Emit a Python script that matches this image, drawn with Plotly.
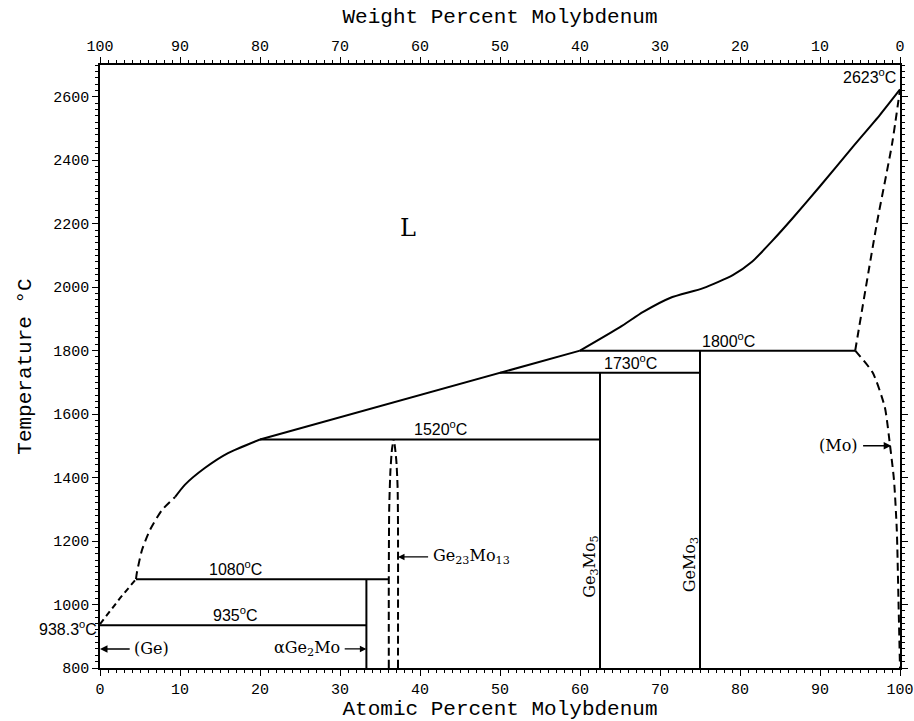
import plotly.graph_objects as go

# ---------------- data (at.% Mo, temperature degC) ----------------
# liquidus, Ge side (dashed parts)
ge_liq_x = [0, 2.5, 4.5]
ge_liq_t = [938.3, 1020, 1080]
liq_dash_x = [4.5, 4.6, 5.25, 6.25, 7.75, 9.4]
liq_dash_t = [1080, 1099, 1172, 1235, 1298, 1339]
# liquidus, solid parts
liq_a_x = [9.4, 10.6, 13.1, 16, 20]
liq_a_t = [1339, 1377, 1430, 1477, 1520]
liq_b_x = [20, 50, 60]
liq_b_t = [1520, 1730, 1800]
liq_c_x = [60, 65, 67.9, 71.25, 75.4, 79.1, 81.5, 84.0, 86.6, 90, 94.1, 97.5, 100]
liq_c_t = [1800, 1874, 1922, 1966, 1997, 2038, 2080, 2145, 2218, 2318, 2442, 2543, 2623]
# (Mo) solidus and solvus (dashed)
mo_sol_x = [94.4, 97.1, 99.0, 100]
mo_sol_t = [1800, 2200, 2450, 2623]
mo_solv_x = [94.4, 96.6, 98.1, 98.75, 99.25, 99.6, 99.8, 100]
mo_solv_t = [1800, 1730, 1622, 1502, 1392, 1235, 1024, 800]
# Ge23Mo13 phase boundaries (dashed)
g23_left_x = [36.1, 36.1, 36.15, 36.3, 36.5, 36.7]
g23_left_t = [800, 1080, 1300, 1420, 1490, 1520]
g23_right_x = [37.25, 37.25, 37.2, 37.05, 36.85, 36.7]
g23_right_t = [800, 1250, 1370, 1450, 1500, 1520]
# invariant isotherms: (x_start, x_end, temperature)
iso_x0 = [0, 4.5, 20, 50, 60]
iso_x1 = [33.3, 36.1, 62.5, 75, 94.4]
iso_t = [935, 1080, 1520, 1730, 1800]
iso_labels = ["935<sup>o</sup>C", "1080<sup>o</sup>C", "1520<sup>o</sup>C",
              "1730<sup>o</sup>C", "1800<sup>o</sup>C"]
iso_label_x = [16.9, 16.9, 42.5, 66.3, 78.5]
# line compounds: (x, top temperature)
comp_x = [33.3, 62.5, 75]
comp_top = [1080, 1730, 1800]

x_ticks = list(range(0, 101, 10))
y_ticks = list(range(800, 2601, 200))

LW = 2.0
fig = go.Figure()

def add_line(x, y, dash="solid", shape="linear"):
    fig.add_trace(go.Scatter(x=x, y=y, mode="lines",
                             line=dict(color="black", width=LW, dash=dash, shape=shape,
                                       smoothing=0.6),
                             showlegend=False, hoverinfo="skip"))

add_line(ge_liq_x, ge_liq_t, dash="6px,4px")
add_line(liq_dash_x, liq_dash_t, dash="8px,5px", shape="spline")
add_line(liq_a_x, liq_a_t, shape="spline")
add_line(liq_b_x, liq_b_t)
add_line(liq_c_x, liq_c_t, shape="spline")
add_line(mo_sol_x, mo_sol_t, dash="8px,5px", shape="spline")
add_line(mo_solv_x, mo_solv_t, dash="8px,5px", shape="spline")
add_line(g23_left_x, g23_left_t, dash="8px,4px", shape="spline")
add_line(g23_right_x, g23_right_t, dash="8px,4px", shape="spline")
for x0, x1, t in zip(iso_x0, iso_x1, iso_t):
    add_line([x0, x1], [t, t])
for cx, ct in zip(comp_x, comp_top):
    add_line([cx, cx], [800, ct])

# invisible trace for the top axis
fig.add_trace(go.Scatter(x=[0, 100], y=[800, 800], xaxis="x2", mode="lines",
                         line=dict(width=0), showlegend=False, hoverinfo="skip"))

lab_font = dict(family="Liberation Sans", size=16, color="black")
ser_font = dict(family="DejaVu Serif", size=16, color="black")
ann = []
for lx, t, txt in zip(iso_label_x, iso_t, iso_labels):
    ann.append(dict(x=lx, y=t, text=txt, showarrow=False, yanchor="bottom",
                    xanchor="center", font=lab_font, yshift=-1))

def arrow(hx, tx, y, w=1.3):
    return dict(x=hx, y=y, ax=tx, ay=y, axref="x", ayref="y", text="", showarrow=True,
                arrowhead=2, arrowsize=1, arrowwidth=w, arrowcolor="black", standoff=0)

ann += [
    dict(x=99.7, y=2628, text="2623<sup>o</sup>C", showarrow=False, xanchor="right",
         yanchor="bottom", font=lab_font),
    dict(x=0, y=926, text="938.3<sup>o</sup>C", showarrow=False, xanchor="right",
         yanchor="middle", font=lab_font, xshift=-1),
    dict(x=38.5, y=2186, text="L", showarrow=False,
         font=dict(family="DejaVu Serif", size=24, color="black")),
    arrow(0, 3.9, 860, 1.5),
    dict(x=4.0, y=860, text="(Ge)", showarrow=False, xanchor="left", font=ser_font),
    arrow(33.3, 30.4, 860),
    dict(x=30.2, y=860, text="\u03b1Ge<sub>2</sub>Mo", showarrow=False, xanchor="right", font=ser_font),
    arrow(37.25, 41.2, 1150),
    dict(x=41.4, y=1150, text="Ge<sub>23</sub>Mo<sub>13</sub>", showarrow=False, xanchor="left", font=ser_font),
    arrow(98.9, 95.2, 1500, 1.5),
    dict(x=95.0, y=1500, text="(Mo)", showarrow=False, xanchor="right", font=ser_font),
    dict(x=61.3, y=1120, text="Ge<sub>3</sub>Mo<sub>5</sub>", textangle=-90, showarrow=False, font=ser_font),
    dict(x=73.8, y=1125, text="GeMo<sub>3</sub>", textangle=-90, showarrow=False, font=ser_font),
]

tick_font = dict(family="Liberation Mono", size=15, color="black")
title_font = dict(family="Liberation Mono", size=21, color="black")
axis_common = dict(showline=True, linecolor="black", linewidth=1.5, ticks="outside",
                   ticklen=6, tickwidth=1.2, tickcolor="black", showgrid=False,
                   zeroline=False, tickfont=tick_font, automargin=False)

fig.update_layout(
    width=914, height=721, plot_bgcolor="white", paper_bgcolor="white",
    margin=dict(l=100, r=14, t=65, b=53),
    xaxis=dict(range=[0, 100], tickvals=x_ticks, title=dict(text="Atomic Percent Molybdenum",
               font=title_font, standoff=9),
               minor=dict(dtick=1, ticklen=3, tickcolor="black", ticks="outside", tickwidth=1),
               **axis_common),
    xaxis2=dict(range=[100, 0], overlaying="x", side="top", tickvals=x_ticks,
                title=dict(text="Weight Percent Molybdenum", font=title_font, standoff=10),
                minor=dict(dtick=1, ticklen=3, tickcolor="black", ticks="outside", tickwidth=1),
                **axis_common),
    yaxis=dict(range=[800, 2700], tickvals=y_ticks, mirror="ticks",
               title=dict(text="Temperature \u00b0C", font=title_font, standoff=16),
               minor=dict(dtick=20, ticklen=3, tickcolor="black", ticks="outside", tickwidth=1),
               **axis_common),
    annotations=ann,
)

fig.write_html("out.html")
